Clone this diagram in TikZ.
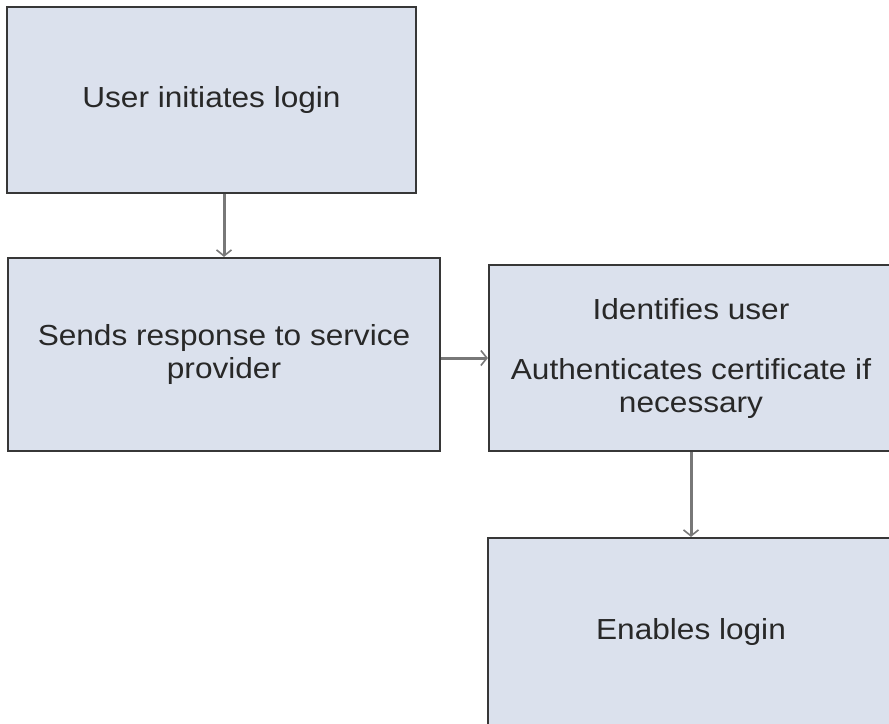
\documentclass[tikz,border=0pt]{standalone}
\usepackage{fontspec}
\setmainfont{Liberation Sans}[FakeStretch=1.09]
\usetikzlibrary{arrows.meta}
\definecolor{boxfill}{RGB}{219,225,237}
\definecolor{boxline}{RGB}{55,55,55}
\definecolor{arrowgray}{RGB}{120,120,120}
\definecolor{textcol}{RGB}{40,40,40}
\begin{document}
\begin{tikzpicture}[x=1pt,y=-1pt,
  stepbox/.style={draw=boxline,fill=boxfill,line width=2.2pt,rectangle,inner sep=0pt,
    align=center,text=textcol,font=\fontsize{29}{33}\selectfont},
  conn/.style={draw=arrowgray,line width=3pt,
    -{Straight Barb[length=6pt,width=15pt,line width=1.6pt]}}]
\useasboundingbox (0,0) rectangle (889,723);
\begin{scope}
\clip (0,0) rectangle (889,723);
\node[stepbox,minimum width=409pt,minimum height=186pt] (a) at (211.5,100) {User initiates login};
\node[stepbox,minimum width=432pt,minimum height=193pt] (b) at (224,354.5) {Sends response to service\\provider};
\node[stepbox,minimum width=404pt,minimum height=186pt] (c) at (691,358) {Identifies user\\[27pt]Authenticates certificate if\\necessary};
\node[stepbox,minimum width=406pt,minimum height=188pt] (d) at (691,632) {Enables login};
\draw[conn] (b.north |- a.south) -- (b.north);
\draw[conn] (b.east |- c.west) -- (c.west);
\draw[conn] (c.south) -- (d.north);
\end{scope}
\end{tikzpicture}
\end{document}
